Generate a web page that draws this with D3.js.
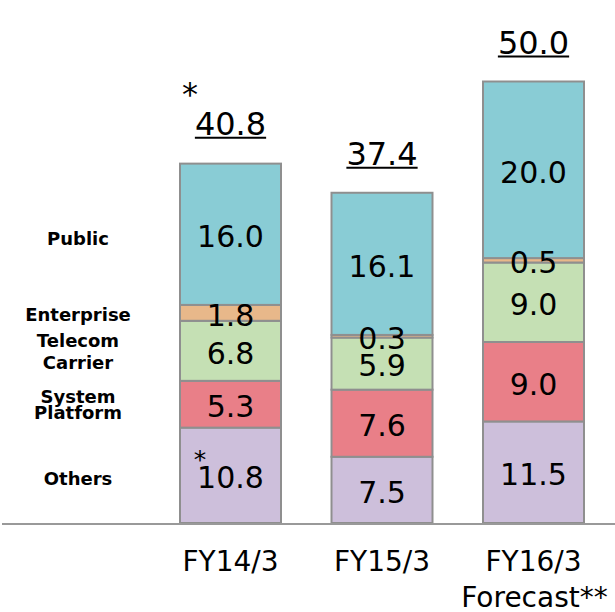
<!DOCTYPE html>
<html>
<head>
<meta charset="utf-8">
<script src="https://cdn.jsdelivr.net/npm/d3@7/dist/d3.min.js"></script>
<style>
  html, body { margin: 0; padding: 0; background: #fff; }
  svg { display: block; font-family: "DejaVu Sans", Verdana, sans-serif; }
</style>
</head>
<body>
<svg id="chart" width="615" height="612"></svg>
<script>
// Fiscal years shown on the x axis
const years = ["FY14/3", "FY15/3", "FY16/3"];
const yearSub = ["", "", "Forecast**"];

// Segments, stacked from the bottom up
const segments = ["Others", "System Platform", "Telecom Carrier", "Enterprise", "Public"];
const segmentLines = [["Others"], ["System", "Platform"], ["Telecom", "Carrier"], ["Enterprise"], ["Public"]];
const colors = ["#cdbfdb", "#e97f88", "#c5e0b4", "#e8b88a", "#89ccd5"];

// Values per segment for each year
const others = [10.8, 7.5, 11.5];
const systemPlatform = [5.3, 7.6, 9.0];
const telecomCarrier = [6.8, 5.9, 9.0];
const enterprise = [1.8, 0.3, 0.5];
const publicSector = [16.0, 16.1, 20.0];

// Totals printed above each bar
const totals = [40.8, 37.4, 50.0];

const series = [others, systemPlatform, telecomCarrier, enterprise, publicSector];

const rows = years.map((yr, i) => {
  const r = { year: yr };
  segments.forEach((s, k) => { r[s] = series[k][i]; });
  return r;
});

const stacked = d3.stack().keys(segments)(rows);

const svg = d3.select("#chart");

const x = d3.scaleBand().domain(years).range([180, 584]).paddingInner(1 / 3).paddingOuter(0);
const y = d3.scaleLinear().domain([0, 50]).range([523, 81.5]);

// Bars
svg.append("g").selectAll("g")
  .data(stacked).join("g")
  .attr("fill", (d, k) => colors[k])
  .selectAll("rect")
  .data(d => d.map(p => ({ p, year: p.data.year })))
  .join("rect")
  .attr("x", d => x(d.year))
  .attr("width", x.bandwidth())
  .attr("y", d => y(d.p[1]))
  .attr("height", d => y(d.p[0]) - y(d.p[1]))
  .attr("stroke", "#8f8f8f")
  .attr("stroke-width", 2);

// Value labels in the middle of each segment, drawn above all bars
const cells = stacked.flatMap(s => s.map(p => ({ p, year: p.data.year, v: p[1] - p[0] })));
svg.append("g").selectAll("text")
  .data(cells).join("text")
  .attr("x", d => x(d.year) + x.bandwidth() / 2)
  .attr("y", d => y((d.p[0] + d.p[1]) / 2) + 2)
  .attr("dy", "0.36em")
  .attr("text-anchor", "middle")
  .attr("font-size", 30)
  .attr("fill", "#000")
  .text(d => d.v.toFixed(1));

// Baseline
svg.append("line")
  .attr("x1", 2).attr("x2", 615)
  .attr("y1", y(0) + 1).attr("y2", y(0) + 1)
  .attr("stroke", "#999").attr("stroke-width", 2);

// Totals with underline
const totalG = svg.append("g");
years.forEach((yr, i) => {
  const cx = x(yr) + x.bandwidth() / 2;
  const base = y(totals[i]) - 28;
  const t = totalG.append("text")
    .attr("x", cx).attr("y", base)
    .attr("text-anchor", "middle")
    .attr("font-size", 32)
    .attr("fill", "#000")
    .text(totals[i].toFixed(1));
  const w = t.node().getComputedTextLength();
  totalG.append("line")
    .attr("x1", cx - w / 2).attr("x2", cx + w / 2)
    .attr("y1", base + 3).attr("y2", base + 3)
    .attr("stroke", "#000").attr("stroke-width", 2);
});

// Footnote markers on the FY14/3 figures
const x0 = x(years[0]);
svg.append("text")
  .attr("x", x0 + 10).attr("y", y(totals[0]) - 58)
  .attr("text-anchor", "middle").attr("font-size", 32)
  .text("*");
svg.append("text")
  .attr("x", x0 + 20).attr("y", y(others[0]) + 40)
  .attr("text-anchor", "middle").attr("font-size", 25)
  .text("*");

// Segment names on the left, next to the first bar
const nameShift = [3, 0, 1, 2, 4];
const names = svg.append("g").attr("font-weight", "bold").attr("font-size", 18).attr("text-anchor", "middle");
stacked.forEach((s, k) => {
  const p = s[0];
  const mid = y((p[0] + p[1]) / 2) + nameShift[k];
  const lines = segmentLines[k];
  const lh = k === 1 ? 16 : 22;
  lines.forEach((ln, j) => {
    names.append("text")
      .attr("x", 78)
      .attr("y", mid + (j - (lines.length - 1) / 2) * lh)
      .attr("dy", "0.36em")
      .text(ln);
  });
});

// Category labels
const xl = svg.append("g").attr("font-size", 28).attr("text-anchor", "middle");
years.forEach((yr, i) => {
  const cx = x(yr) + x.bandwidth() / 2;
  xl.append("text").attr("x", cx).attr("y", 571).text(yr);
  if (yearSub[i]) xl.append("text").attr("x", cx + 1).attr("y", 607).text(yearSub[i]);
});
</script>
</body>
</html>
